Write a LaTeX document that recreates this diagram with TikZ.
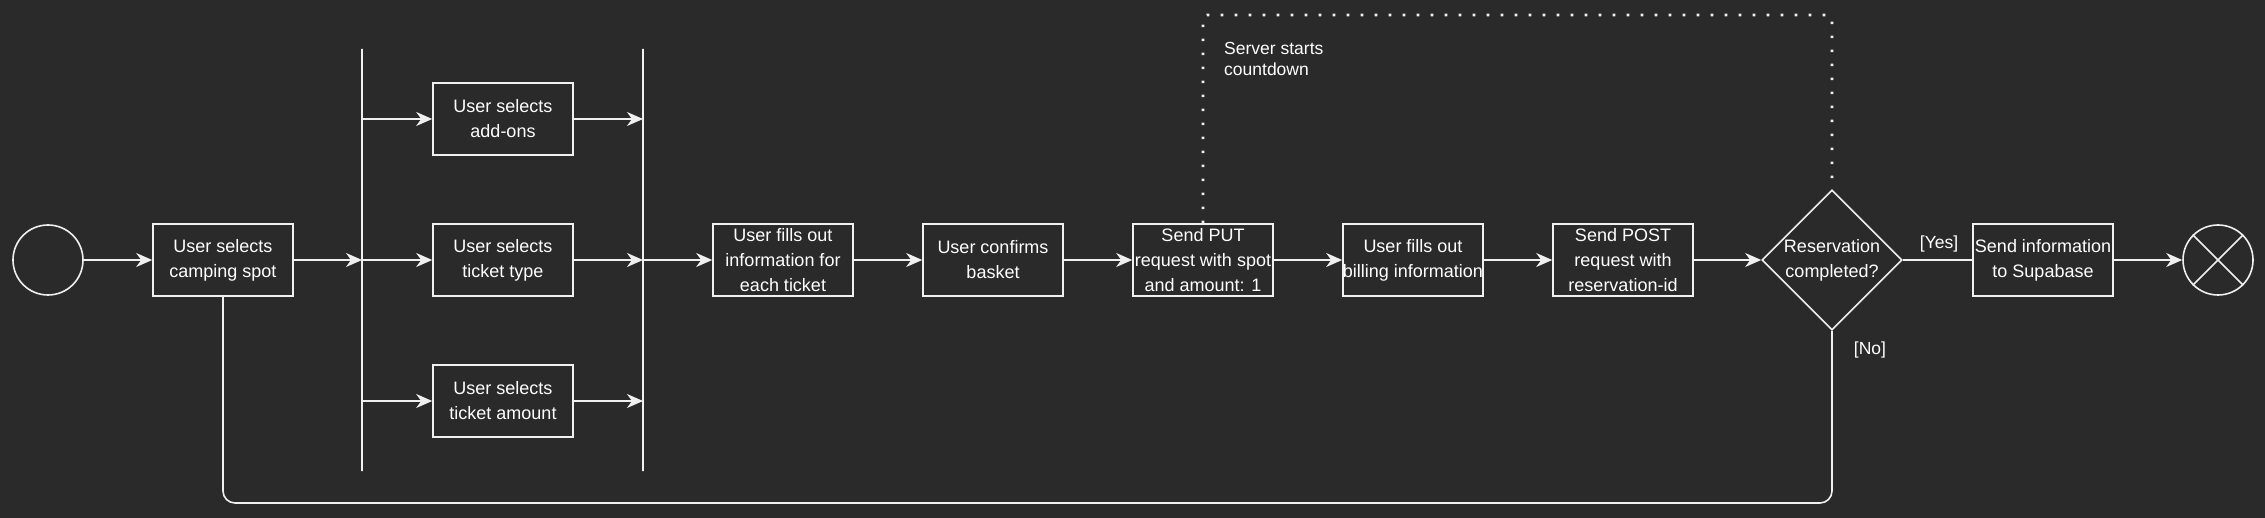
\documentclass[tikz,border=0pt]{standalone}
\usepackage{fontspec}
\setmainfont{Liberation Sans}
\usetikzlibrary{arrows.meta,shapes.geometric}
\definecolor{bg}{HTML}{2A2A2A}
\definecolor{fg}{HTML}{F0F0F0}
\tikzset{
  ln/.style={draw=fg, line width=1.6pt},
  arr/.style={ln, -{Stealth[length=16pt,width=14pt,inset=5pt]}},
  boxnode/.style={draw=fg, line width=1.6pt, rectangle, minimum width=140pt, minimum height=72pt, inner sep=0pt, align=center, text=white, font=\fontsize{18}{25}\selectfont},
  barnode/.style={draw=fg, line width=1.6pt, rectangle, minimum width=0pt, minimum height=422pt, inner sep=0pt},
  ringnode/.style={draw=fg, line width=1.6pt, circle, minimum size=70pt, inner sep=0pt},
  decnode/.style={draw=fg, line width=1.6pt, diamond, aspect=1, minimum width=140pt, minimum height=140pt, inner sep=0pt, align=center, text=white, font=\fontsize{18}{25}\selectfont},
  lbl/.style={inner sep=0pt, text=white, font=\fontsize{17.5}{21}\selectfont},
  dots/.style={draw=fg, line width=2.6pt, dash pattern=on 2.6pt off 11.4pt}
}
\begin{document}
\begin{tikzpicture}[x=1pt,y=-1pt]
\fill[bg] (0,0) rectangle (2265,518);
\useasboundingbox (0,0) rectangle (2265,518);

\node[ringnode] (start) at (48,260) {};
\node[boxnode] (spot) at (223,260) {User selects\\camping spot};
\node[barnode] (b1) at (362,260) {};
\node[barnode] (b2) at (643,260) {};
\node[boxnode] (addons) at (503,119) {User selects\\add-ons};
\node[boxnode] (ttype) at (503,260) {User selects\\ticket type};
\node[boxnode] (tamount) at (503,401) {User selects\\ticket amount};
\node[boxnode] (fill) at (783,260) {User fills out\\information for\\each ticket};
\node[boxnode] (confirm) at (993,260) {User confirms\\basket};
\node[boxnode] (put) at (1203,260) {Send PUT\\request with spot\\and amount: 1};
\node[boxnode] (billing) at (1413,260) {User fills out\\billing information};
\node[boxnode] (post) at (1623,260) {Send POST\\request with\\reservation-id};
\node[decnode] (dec) at (1832,260) {Reservation\\completed?};
\node[boxnode] (supa) at (2043,260) {Send information\\to Supabase};
\node[ringnode] (stop) at (2218,260) {};
\draw[ln] (stop.45) -- (stop.225);
\draw[ln] (stop.135) -- (stop.315);

\coordinate (topy) at (0,15);
\coordinate (boty) at (0,503);

\draw[arr] (start) -- (spot);
\draw[arr] (spot.east) -- (spot.east -| b1);
\draw[arr] (b1 |- addons.west) -- (addons.west);
\draw[arr] (b1 |- ttype.west) -- (ttype.west);
\draw[arr] (b1 |- tamount.west) -- (tamount.west);
\draw[arr] (addons.east) -- (addons.east -| b2);
\draw[arr] (ttype.east) -- (ttype.east -| b2);
\draw[arr] (tamount.east) -- (tamount.east -| b2);
\draw[arr] (b2 |- fill.west) -- (fill.west);
\draw[arr] (fill) -- (confirm);
\draw[arr] (confirm) -- (put);
\draw[arr] (put) -- (billing);
\draw[arr] (billing) -- (post);
\draw[arr] (post) -- (dec);
\draw[ln] (dec) -- (supa);
\draw[arr] (supa) -- (stop);

\draw[ln, rounded corners=12pt] (spot.south) -- (spot.south |- boty) -- (dec.south |- boty) -- (dec.south);
\draw[dots, rounded corners=4pt] (put.north) -- (put.north |- topy) -- (dec.north |- topy) -- (dec.north);

\node[lbl, anchor=north west, align=left] (srv) at (1224,42) {Server starts\\countdown};
\node[lbl] (yes) at (1939,244) {[Yes]};
\node[lbl] (no) at (1870,350) {[No]};
\end{tikzpicture}
\end{document}
